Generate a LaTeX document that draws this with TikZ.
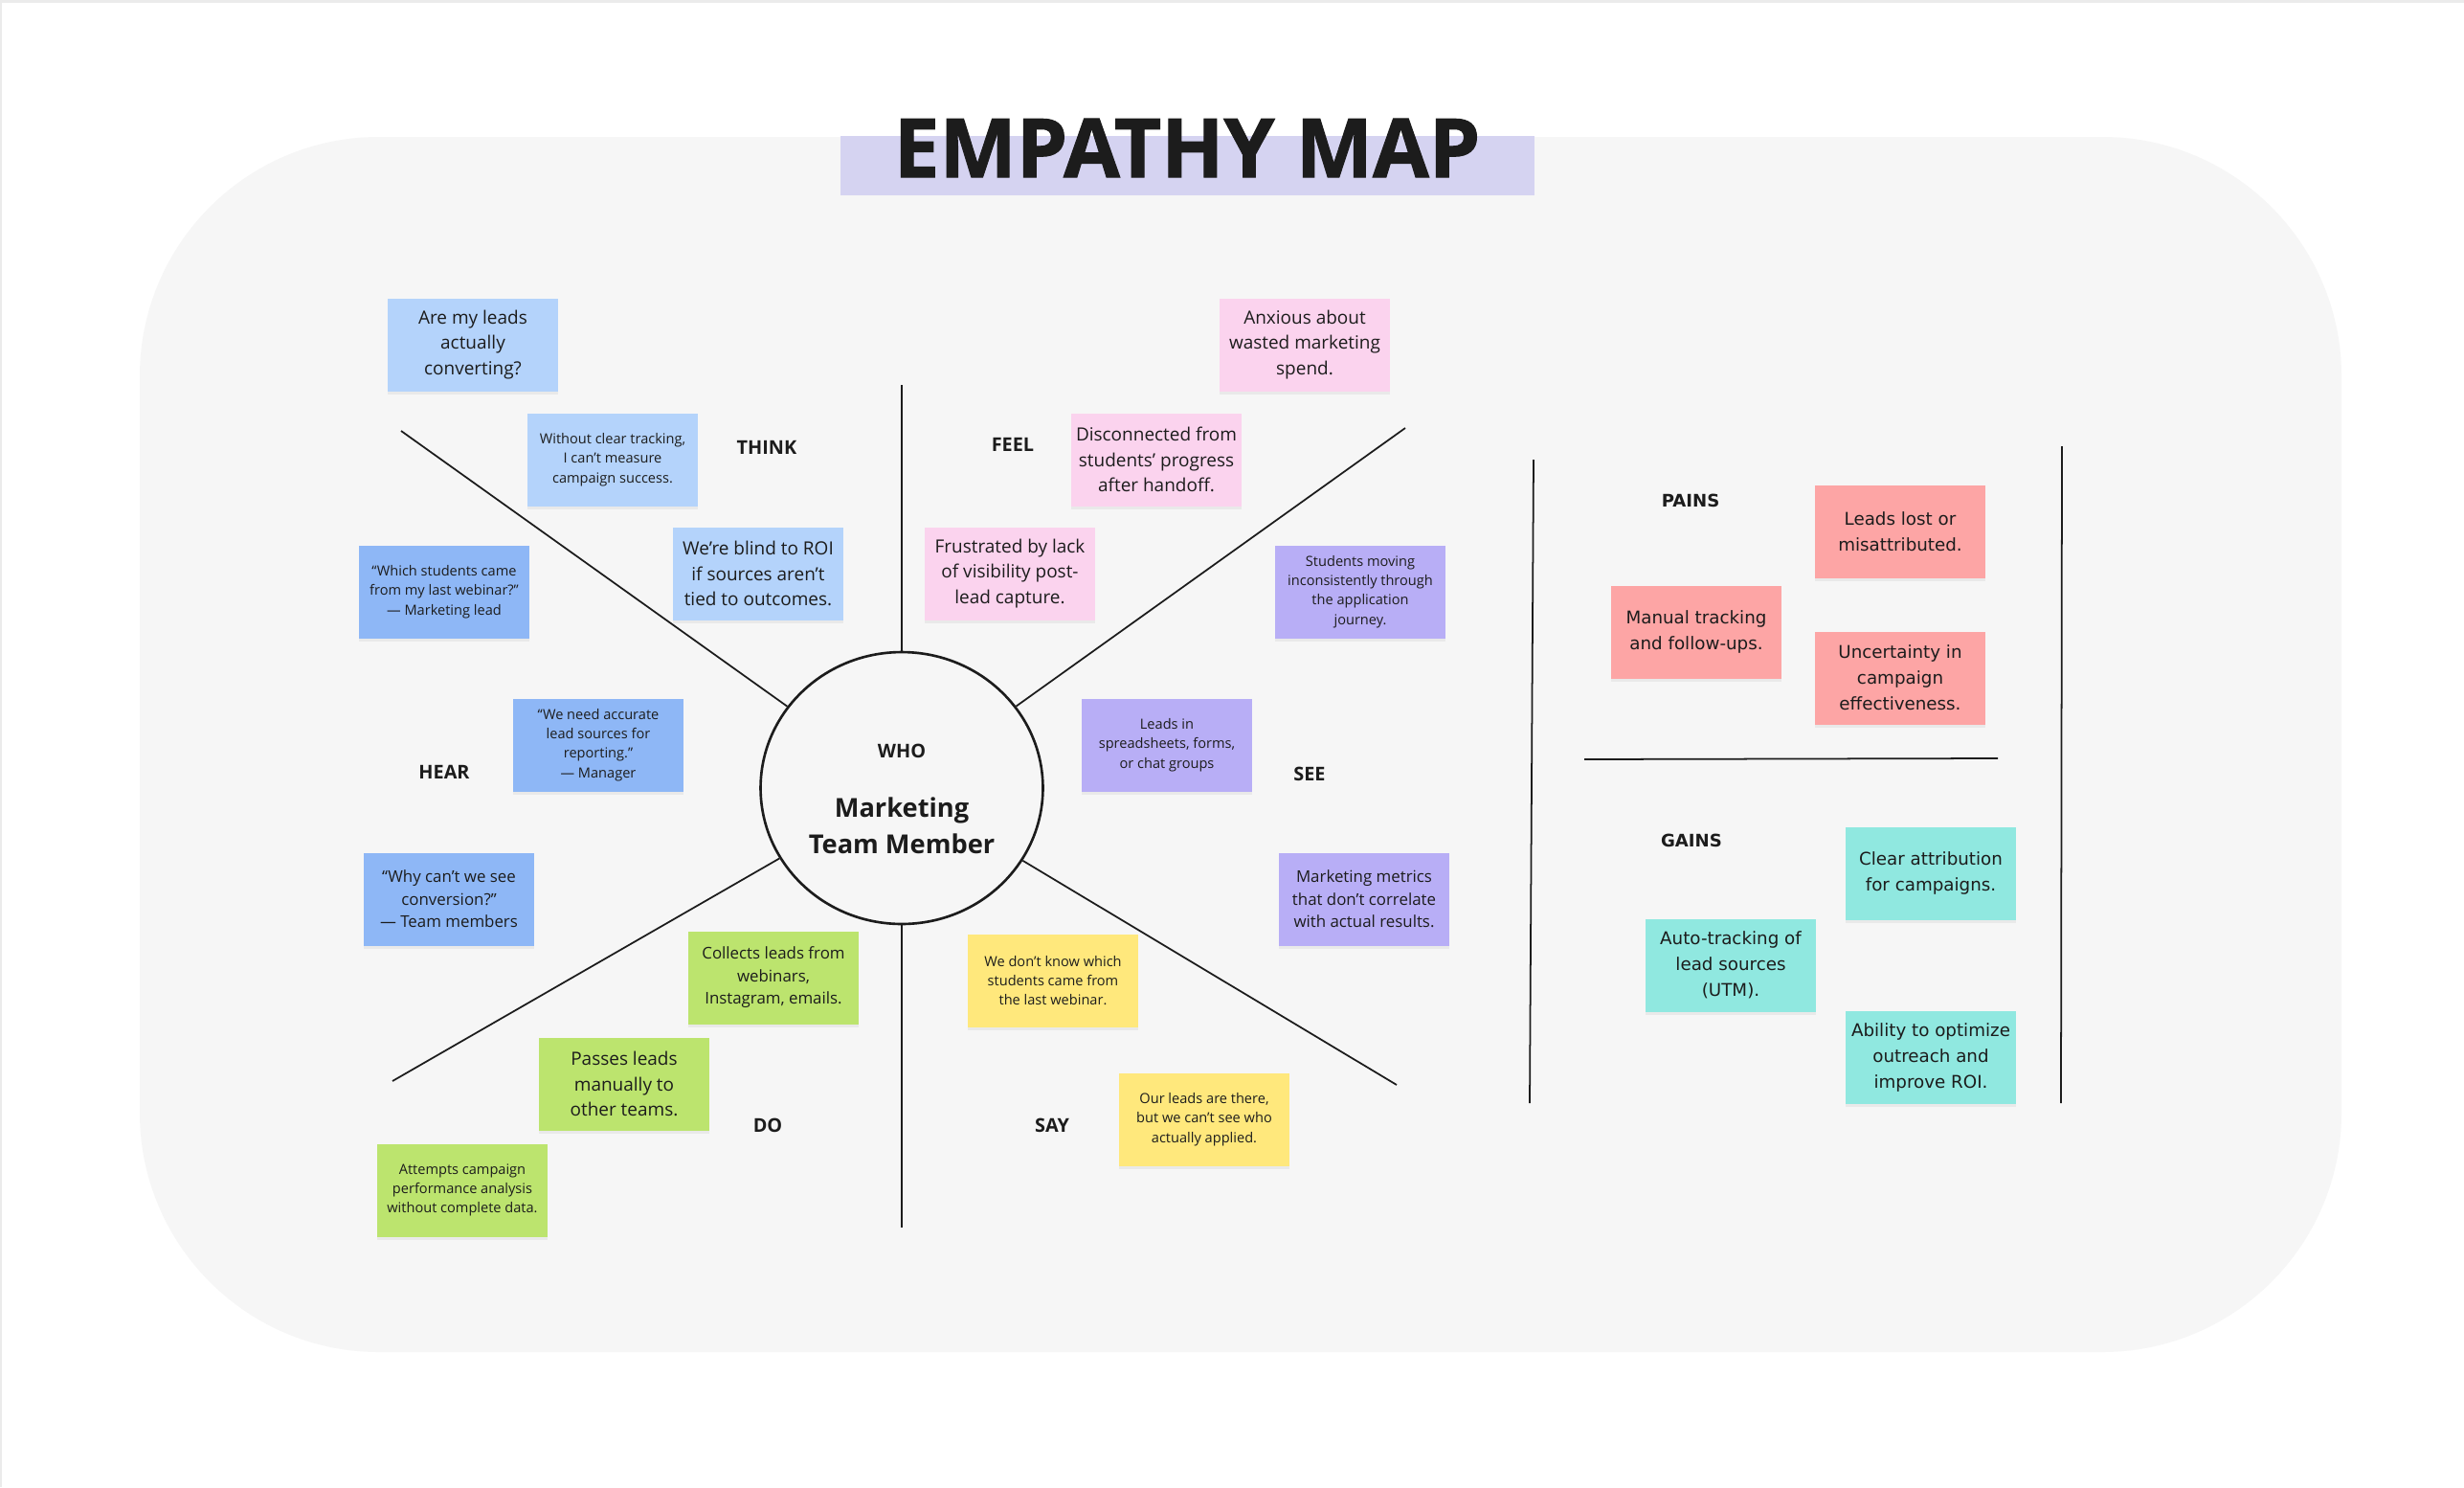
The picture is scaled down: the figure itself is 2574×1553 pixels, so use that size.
\documentclass[tikz,border=0pt]{standalone}
\usepackage{fontspec}
\setmainfont{Open Sans}
\newfontfamily\widefont{DejaVu Sans}
\newfontfamily\titlefont{Open Sans}[FakeBold=1.2]
\usetikzlibrary{shapes.geometric,shadows}
\definecolor{mapink}{HTML}{1C1C1C}
\definecolor{mapboard}{HTML}{F6F6F6}
\definecolor{mapedge}{HTML}{EBEBEB}
\definecolor{maptitle}{HTML}{D5D3F1}
\definecolor{noteblue}{HTML}{B4D3FB}
\definecolor{notedeep}{HTML}{8EB7F6}
\definecolor{notepink}{HTML}{FBD3EE}
\definecolor{notepurple}{HTML}{B8AEF6}
\definecolor{notegreen}{HTML}{BCE46E}
\definecolor{noteyellow}{HTML}{FFE87C}
\definecolor{notered}{HTML}{FDA5A5}
\definecolor{noteteal}{HTML}{90E8E0}

\begin{document}
\begin{tikzpicture}[
  x=0.02cm, y=-0.02cm,
  note/.style={minimum width=3.56cm, minimum height=1.94cm, inner sep=0pt,
               align=center, text=mapink,
               drop shadow={opacity=0.10, shadow xshift=0pt, shadow yshift=-2pt}},
  notesm/.style={note, font=\fontsize{8.3}{11.6}\selectfont},
  notemd/.style={note, font=\fontsize{9.6}{13.4}\selectfont},
  notelg/.style={note, font=\fontsize{10.8}{15}\selectfont},
  notewide/.style={note, font=\widefont\fontsize{10.4}{15.4}\selectfont},
  tag/.style={font=\bfseries\fontsize{11.3}{13}\selectfont, text=mapink},
  widetag/.style={font=\widefont\bfseries\fontsize{10.3}{12}\selectfont, text=mapink},
  spoke/.style={draw=mapink, line width=1pt}
]
\useasboundingbox (0,0) rectangle (2574,1553);
\fill[white] (0,0) rectangle (2574,1553);
\fill[mapedge] (0,0) rectangle (2574,3);
\fill[mapedge] (0,0) rectangle (2,1553);
\fill[mapboard, rounded corners=5cm] (146,143) rectangle (2446,1412);

% title
\fill[maptitle] (878,142) rectangle (1603,204);
\node[anchor=base, font=\titlefont\bfseries\fontsize{48.5}{50}\selectfont, text=mapink] (title) at (1240,185) {EMPATHY MAP};

% who
\node[ellipse, draw=mapink, line width=1.5pt, minimum width=5.9cm, minimum height=5.68cm] (who) at (942,823) {};
\node[tag] (whotag) at (942,784) {WHO};
\node[font=\bfseries\fontsize{15.5}{21.7}\selectfont, align=center, text=mapink] (persona) at (942,862) {Marketing\\Team Member};

\coordinate (thinkend) at (419,450);
\coordinate (feelend) at (1468,447);
\coordinate (topend) at (942,402);
\coordinate (botend) at (942,1282);
\coordinate (doend) at (410,1129);
\coordinate (sayend) at (1459,1133);
\draw[spoke] (who) -- (thinkend);
\draw[spoke] (who) -- (feelend);
\draw[spoke] (who) -- (topend);
\draw[spoke] (who) -- (botend);
\draw[spoke] (who) -- (doend);
\draw[spoke] (who) -- (sayend);

% labels
\node[tag] (think) at (801,467) {THINK};
\node[tag] (feel) at (1058,464) {FEEL};
\node[tag] (hear) at (464,806) {HEAR};
\node[tag] (see) at (1368,808) {SEE};
\node[tag] (do) at (802,1175) {DO};
\node[tag] (say) at (1099,1175) {SAY};

% think
\node[notelg, fill=noteblue] (think1) at (494,360) {Are my leads\\actually\\converting?};
\node[notesm, fill=noteblue] (think2) at (640,480) {Without clear tracking,\\I can’t measure\\campaign success.};
\node[notelg, fill=noteblue] (think3) at (792,599) {We’re blind to ROI\\if sources aren’t\\tied to outcomes.};

% hear
\node[notesm, fill=notedeep] (hear1) at (464,618) {“Which students came\\from my last webinar?”\\— Marketing lead};
\node[notesm, fill=notedeep] (hear2) at (625,778) {“We need accurate\\lead sources for\\reporting.”\\— Manager};
\node[notemd, fill=notedeep] (hear3) at (469,939) {“Why can’t we see\\conversion?”\\— Team members};

% do
\node[notemd, fill=notegreen] (do1) at (808,1021) {Collects leads from\\webinars,\\Instagram, emails.};
\node[notelg, fill=notegreen] (do2) at (652,1132) {Passes leads\\manually to\\other teams.};
\node[notesm, fill=notegreen] (do3) at (483,1243) {Attempts campaign\\performance analysis\\without complete data.};

% feel
\node[notelg, fill=notepink] (feel1) at (1363,360) {Anxious about\\wasted marketing\\spend.};
\node[notelg, fill=notepink] (feel2) at (1208,480) {Disconnected from\\students’ progress\\after handoff.};
\node[notelg, fill=notepink] (feel3) at (1055,599) {Frustrated by lack\\of visibility post-\\lead capture.};

% see
\node[notesm, fill=notepurple] (see1) at (1421,618) {Students moving\\inconsistently through\\the application\\journey.};
\node[notesm, fill=notepurple] (see2) at (1219,778) {Leads in\\spreadsheets, forms,\\or chat groups};
\node[notemd, fill=notepurple] (see3) at (1425,939) {Marketing metrics\\that don’t correlate\\with actual results.};

% say
\node[notesm, fill=noteyellow] (say1) at (1100,1024) {We don’t know which\\students came from\\the last webinar.};
\node[notesm, fill=noteyellow] (say2) at (1258,1169) {Our leads are there,\\but we can’t see who\\actually applied.};

% pains and gains
\coordinate (lrtop) at (1602,480);
\coordinate (lrbot) at (1598,1152);
\coordinate (rrtop) at (2154,466);
\coordinate (rrbot) at (2153,1152);
\coordinate (midl) at (1655,793);
\coordinate (midr) at (2087,792);
\draw[spoke] (lrtop) -- (lrbot);
\draw[spoke] (rrtop) -- (rrbot);
\draw[spoke] (midl) -- (midr);

\node[widetag] (pains) at (1766,523) {PAINS};
\node[widetag] (gains) at (1767,878) {GAINS};
\node[notewide, fill=notered] (pain1) at (1985,555) {Leads lost or\\misattributed.};
\node[notewide, fill=notered] (pain2) at (1772,660) {Manual tracking\\and follow-ups.};
\node[notewide, fill=notered] (pain3) at (1985,708) {Uncertainty in\\campaign\\effectiveness.};
\node[notewide, fill=noteteal] (gain1) at (2017,912) {Clear attribution\\for campaigns.};
\node[notewide, fill=noteteal] (gain2) at (1808,1008) {Auto-tracking of\\lead sources\\(UTM).};
\node[notewide, fill=noteteal] (gain3) at (2017,1104) {Ability to optimize\\outreach and\\improve ROI.};
\end{tikzpicture}
\end{document}
